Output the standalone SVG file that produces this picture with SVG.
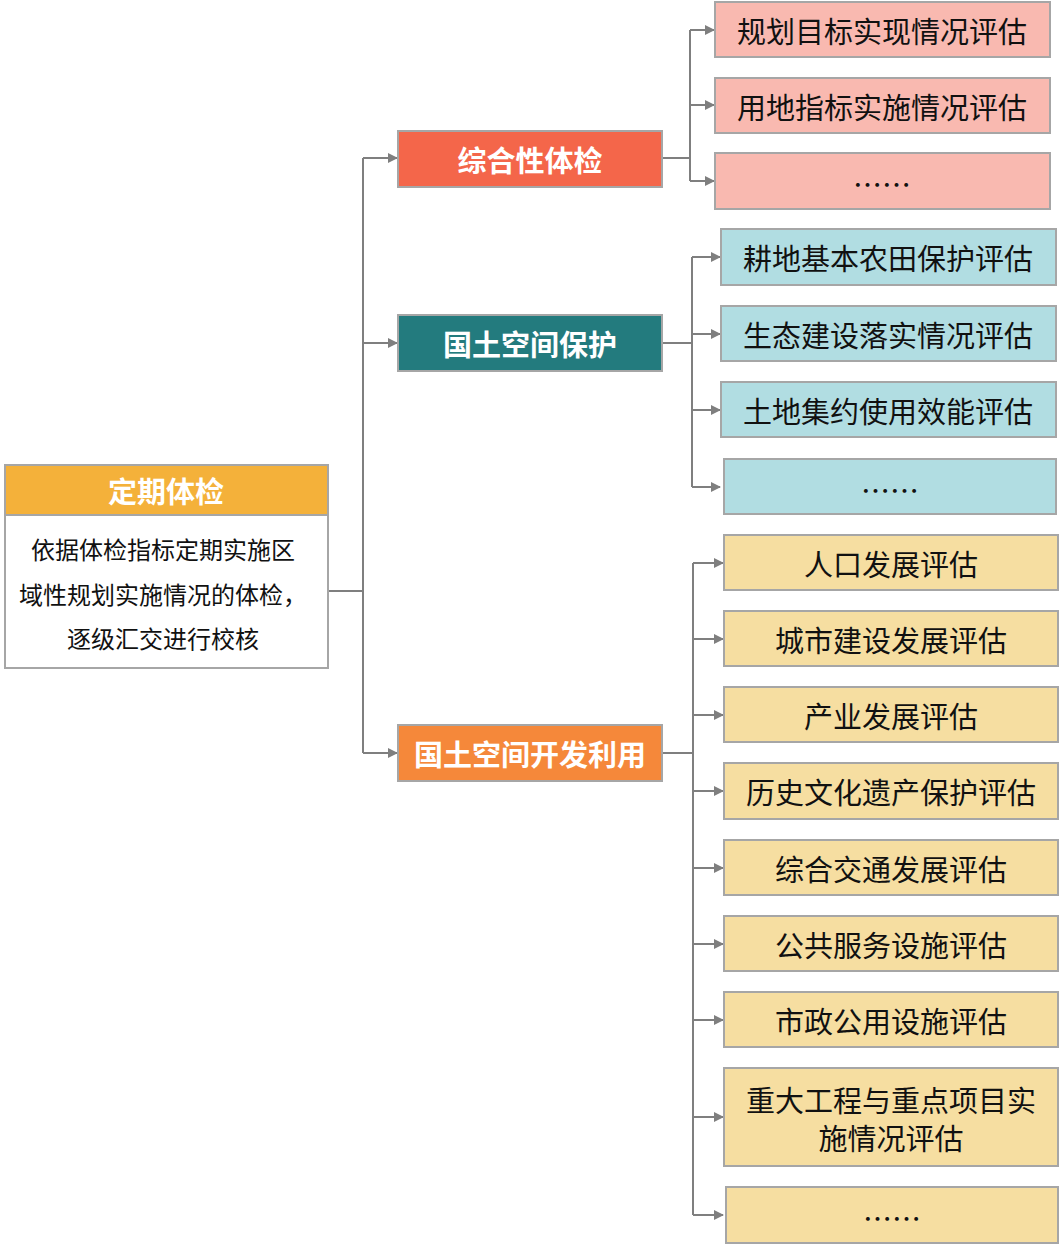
<svg xmlns="http://www.w3.org/2000/svg" width="1061" height="1251" viewBox="0 0 1061 1251">
<style>
text{font-family:"Noto Sans CJK SC","Liberation Sans",sans-serif;text-anchor:middle;dominant-baseline:central}
.b{stroke:#A6A6A6;stroke-width:2}
.mid{fill:#fff;font-size:29px;font-weight:bold}
.leaf{fill:#111;font-size:29px}
.body{fill:#111;font-size:24px}
.p{fill:#F9B9B0}.c{fill:#B1DDE2}.y{fill:#F6DEA1}
.ln{fill:none;stroke:#7F7F7F;stroke-width:2}
</style>
<defs><marker id="a" markerWidth="10" markerHeight="10" refX="9" refY="5" orient="auto" markerUnits="userSpaceOnUse"><path d="M0,0L10,5L0,10z" fill="#7F7F7F"/></marker></defs>
<g id="connectors" class="ln">
<path d="M328,591H363"/><path d="M363,158V753"/>
<path d="M363,158H397" marker-end="url(#a)"/><path d="M363,343H397" marker-end="url(#a)"/><path d="M363,753H397" marker-end="url(#a)"/>
<path d="M662,158H690M690,30V181"/>
<path d="M690,30H714" marker-end="url(#a)"/><path d="M690,105H714" marker-end="url(#a)"/><path d="M690,181H714" marker-end="url(#a)"/>
<path d="M662,343H692M692,257V487"/>
<path d="M692,257H720" marker-end="url(#a)"/><path d="M692,334H720" marker-end="url(#a)"/><path d="M692,410H720" marker-end="url(#a)"/><path d="M692,487H720" marker-end="url(#a)"/>
<path d="M662,753H693M693,563V1215"/>
<path d="M693,563H723" marker-end="url(#a)"/><path d="M693,639H723" marker-end="url(#a)"/><path d="M693,715H723" marker-end="url(#a)"/><path d="M693,791H723" marker-end="url(#a)"/><path d="M693,868H723" marker-end="url(#a)"/><path d="M693,944H723" marker-end="url(#a)"/><path d="M693,1020H723" marker-end="url(#a)"/><path d="M693,1117H723" marker-end="url(#a)"/><path d="M693,1215H723" marker-end="url(#a)"/>
</g>
<g id="root">
<rect x="5" y="465" width="323" height="203" fill="#fff" class="b"/>
<rect x="5" y="465" width="323" height="50" fill="#F4B13A" class="b"/>
<text x="166" y="490" class="mid">定期体检</text>
<text x="163" y="548" class="body">依据体检指标定期实施区</text>
<text x="163" y="593" class="body">域性规划实施情况的体检，</text>
<text x="163" y="637" class="body">逐级汇交进行校核</text>
</g>
<g id="m1"><rect x="398" y="131" width="264" height="56" fill="#F4664A" class="b"/><text x="530" y="159" class="mid">综合性体检</text></g>
<g id="m2"><rect x="398" y="315" width="264" height="56" fill="#237B7E" class="b"/><text x="530" y="343" class="mid">国土空间保护</text></g>
<g id="m3"><rect x="398" y="725" width="264" height="56" fill="#F5883A" class="b"/><text x="530" y="753" class="mid">国土空间开发利用</text></g>
<g id="p1"><rect x="715" y="2" width="335" height="55" class="p b"/><text x="882" y="30" class="leaf">规划目标实现情况评估</text></g>
<g id="p2"><rect x="715" y="78" width="335" height="55" class="p b"/><text x="882" y="106" class="leaf">用地指标实施情况评估</text></g>
<g id="p3"><rect x="715" y="153" width="335" height="56" class="p b"/><text x="882" y="183" class="leaf">……</text></g>
<g id="c1"><rect x="721" y="229" width="335" height="56" class="c b"/><text x="888" y="257" class="leaf">耕地基本农田保护评估</text></g>
<g id="c2"><rect x="721" y="306" width="335" height="55" class="c b"/><text x="888" y="334" class="leaf">生态建设落实情况评估</text></g>
<g id="c3"><rect x="721" y="382" width="335" height="55" class="c b"/><text x="888" y="410" class="leaf">土地集约使用效能评估</text></g>
<g id="c4"><rect x="724" y="459" width="332" height="55" class="c b"/><text x="890" y="489" class="leaf">……</text></g>
<g id="y1"><rect x="724" y="535" width="334" height="55" class="y b"/><text x="891" y="563" class="leaf">人口发展评估</text></g>
<g id="y2"><rect x="724" y="611" width="334" height="55" class="y b"/><text x="891" y="639" class="leaf">城市建设发展评估</text></g>
<g id="y3"><rect x="724" y="687" width="334" height="55" class="y b"/><text x="891" y="715" class="leaf">产业发展评估</text></g>
<g id="y4"><rect x="724" y="763" width="334" height="56" class="y b"/><text x="891" y="791" class="leaf">历史文化遗产保护评估</text></g>
<g id="y5"><rect x="724" y="840" width="334" height="55" class="y b"/><text x="891" y="868" class="leaf">综合交通发展评估</text></g>
<g id="y6"><rect x="724" y="916" width="334" height="55" class="y b"/><text x="891" y="944" class="leaf">公共服务设施评估</text></g>
<g id="y7"><rect x="724" y="992" width="334" height="55" class="y b"/><text x="891" y="1020" class="leaf">市政公用设施评估</text></g>
<g id="y8"><rect x="724" y="1068" width="334" height="98" class="y b"/><text x="891" y="1099" class="leaf">重大工程与重点项目实</text><text x="891" y="1137" class="leaf">施情况评估</text></g>
<g id="y9"><rect x="726" y="1187" width="332" height="56" class="y b"/><text x="892" y="1217" class="leaf">……</text></g>
</svg>
